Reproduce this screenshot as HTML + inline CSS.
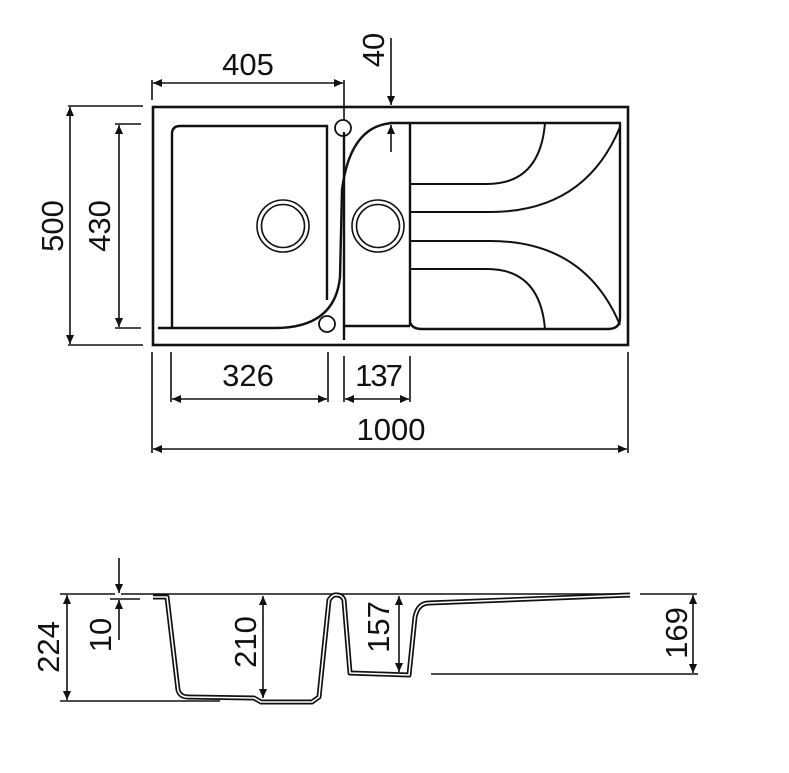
<!DOCTYPE html>
<html><head><meta charset="utf-8"><style>
html,body{margin:0;padding:0;background:#fff;}
svg{display:block;}
text{font-family:"Liberation Sans",Arial,sans-serif;font-size:31px;fill:#111;}
</style></head><body>
<svg width="789" height="773" viewBox="0 0 789 773" xmlns="http://www.w3.org/2000/svg">
<defs>
<marker id="a" viewBox="0 0 10 10" refX="10" refY="5" markerWidth="15" markerHeight="9" markerUnits="userSpaceOnUse" orient="auto-start-reverse">
<path d="M0,0.5 L10,5 L0,9.5 z" fill="#111"/></marker>
</defs>
<g fill="none" stroke="#111" stroke-width="1.6">
<rect x="153" y="107" width="475" height="238" stroke-width="2.6"/>
<line x1="390" y1="123" x2="621" y2="123" stroke-width="2.4"/>
<path d="M172,328 L172,134 Q172,126 180,126 L327,126 L327,300" stroke-width="2.4"/>
<path d="M158,328 L275,328 Q335,328 340,277 L342,190 Q350,126 392,123" stroke-width="2.4"/>
<line x1="344" y1="132" x2="344" y2="340" stroke-width="2.4"/>
<line x1="344" y1="326" x2="410" y2="326" stroke-width="2.4"/>
<line x1="410" y1="123" x2="410" y2="326" stroke-width="2.4"/>
<path d="M410,322 Q412,329 422,329 L608,329 Q620,329 620,318 L620,123" stroke-width="2.4"/>
<path d="M410,184 L487,184 Q540,184 545,123" stroke-width="2"/>
<path d="M410,212 L490,212 Q585,212 620,127" stroke-width="2"/>
<path d="M410,241 L490,241 Q585,241 620,325" stroke-width="2"/>
<path d="M410,269 L487,269 Q540,269 545,329" stroke-width="2"/>
<circle cx="283" cy="226" r="26"/><circle cx="283" cy="226" r="21.5"/>
<circle cx="378" cy="226" r="26"/><circle cx="378" cy="226" r="21.5"/>
<circle cx="343" cy="128" r="8" stroke-width="1.8"/>
<circle cx="327" cy="324" r="8" stroke-width="1.8"/>
<line x1="152" y1="80" x2="152" y2="100"/>
<line x1="344" y1="80" x2="344" y2="120"/>
<line x1="153" y1="83" x2="343" y2="83" marker-start="url(#a)" marker-end="url(#a)"/>
<line x1="391" y1="38" x2="391" y2="105" marker-end="url(#a)"/>
<line x1="391" y1="152" x2="391" y2="125" marker-end="url(#a)"/>
<line x1="68" y1="106" x2="143" y2="106"/>
<line x1="68" y1="345" x2="143" y2="345"/>
<line x1="70" y1="107" x2="70" y2="344" marker-start="url(#a)" marker-end="url(#a)"/>
<line x1="115" y1="124" x2="141" y2="124"/>
<line x1="115" y1="328" x2="141" y2="328"/>
<line x1="119" y1="125" x2="119" y2="327" marker-start="url(#a)" marker-end="url(#a)"/>
<line x1="171" y1="352" x2="171" y2="402"/>
<line x1="328" y1="352" x2="328" y2="402"/>
<line x1="172" y1="399" x2="327" y2="399" marker-start="url(#a)" marker-end="url(#a)"/>
<line x1="344" y1="356" x2="344" y2="402"/>
<line x1="410" y1="356" x2="410" y2="402"/>
<line x1="345" y1="399" x2="409" y2="399" marker-start="url(#a)" marker-end="url(#a)"/>
<line x1="152" y1="352" x2="152" y2="453"/>
<line x1="628" y1="352" x2="628" y2="453"/>
<line x1="153" y1="449" x2="627" y2="449" marker-start="url(#a)" marker-end="url(#a)"/>
<line x1="60" y1="594" x2="115" y2="594"/>
<line x1="121" y1="594" x2="628" y2="594"/>
<line x1="110" y1="599" x2="140" y2="599"/>
<line x1="60" y1="701" x2="220" y2="701"/>
<line x1="640" y1="594" x2="697" y2="594"/>
<line x1="431" y1="674" x2="698" y2="674"/>
<line x1="67" y1="595" x2="67" y2="700" marker-start="url(#a)" marker-end="url(#a)"/>
<line x1="119" y1="558" x2="119" y2="593" marker-end="url(#a)"/>
<line x1="119" y1="640" x2="119" y2="600" marker-end="url(#a)"/>
<line x1="263" y1="596" x2="263" y2="698" marker-start="url(#a)" marker-end="url(#a)"/>
<line x1="399" y1="596" x2="399" y2="672" marker-start="url(#a)" marker-end="url(#a)"/>
<line x1="693" y1="595" x2="693" y2="673" marker-start="url(#a)" marker-end="url(#a)"/>
<path d="M153,597 L167,597 L178,690 Q180,697 188,697 L254,698 L261,702 L312,702 L319,697 L329,600 Q333,594 337,595 Q342,595 344,600 L350,673 L409,675 L415,617 Q418,603 429,603 L630,595" stroke="#111" stroke-width="5" stroke-linejoin="round"/>
<path d="M153,597 L167,597 L178,690 Q180,697 188,697 L254,698 L261,702 L312,702 L319,697 L329,600 Q333,594 337,595 Q342,595 344,600 L350,673 L409,675 L415,617 Q418,603 429,603 L630,595" stroke="#fff" stroke-width="1.6" stroke-linejoin="round"/>
</g>
<text x="248" y="75" text-anchor="middle">405</text>
<text x="248" y="386" text-anchor="middle">326</text>
<text x="378" y="386" text-anchor="middle" letter-spacing="-2">137</text>
<text x="391" y="440" text-anchor="middle">1000</text>
<text transform="translate(384,50) rotate(-90)" text-anchor="middle">40</text>
<text transform="translate(63,226) rotate(-90)" text-anchor="middle">500</text>
<text transform="translate(110,226) rotate(-90)" text-anchor="middle">430</text>
<text transform="translate(59,647) rotate(-90)" text-anchor="middle">224</text>
<text transform="translate(111,635) rotate(-90)" text-anchor="middle">10</text>
<text transform="translate(256,642) rotate(-90)" text-anchor="middle">210</text>
<text transform="translate(389,627) rotate(-90)" text-anchor="middle">157</text>
<text transform="translate(687,633) rotate(-90)" text-anchor="middle">169</text>
</svg>
</body></html>
